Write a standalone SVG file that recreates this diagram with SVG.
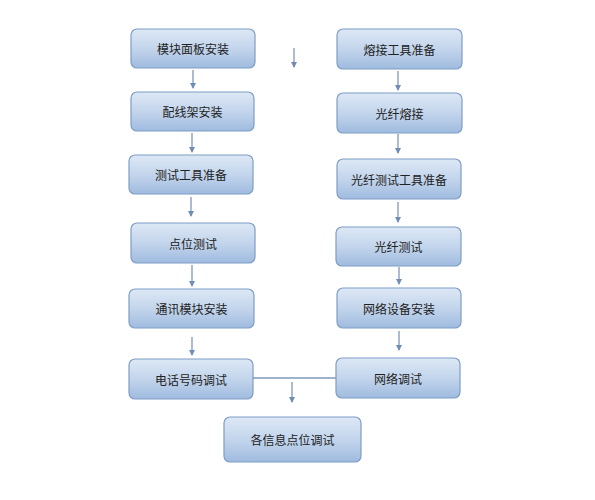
<svg xmlns="http://www.w3.org/2000/svg" width="595" height="500" viewBox="0 0 595 500">
<defs>
<linearGradient id="g" x1="0" y1="0" x2="0" y2="1">
<stop offset="0" stop-color="#dde8f5"/>
<stop offset="0.5" stop-color="#c3d5ec"/>
<stop offset="1" stop-color="#9fbbdf"/>
</linearGradient>
<marker id="ah" markerWidth="6" markerHeight="6" refX="5" refY="3" orient="auto" markerUnits="userSpaceOnUse">
<path d="M0,0 L6,3 L0,6 z" fill="#6f8db5"/>
</marker>
<style>
.n rect{fill:url(#g);stroke:#7f9dc6;stroke-width:1.2}
.n text{font-family:"Noto Sans CJK SC","Noto Sans",sans-serif;font-size:12px;fill:#222;text-anchor:middle;dominant-baseline:central}
.c line{stroke:#7f98ba;stroke-width:1.3}
.c .a{marker-end:url(#ah)}
</style>
</defs>
<rect width="595" height="500" fill="#fff"/>
<g class="c" id="connectors">
<line class="a" x1="193" y1="70" x2="193" y2="88"/>
<line class="a" x1="192" y1="133" x2="192" y2="152"/>
<line class="a" x1="191" y1="197" x2="191" y2="216"/>
<line class="a" x1="192" y1="265" x2="192" y2="286"/>
<line class="a" x1="192" y1="337" x2="192" y2="355"/>
<line class="a" x1="398" y1="71" x2="398" y2="90"/>
<line class="a" x1="398" y1="134" x2="398" y2="153"/>
<line class="a" x1="398" y1="202" x2="398" y2="222"/>
<line class="a" x1="399" y1="267" x2="399" y2="284"/>
<line class="a" x1="399" y1="331" x2="399" y2="350"/>
<line class="a" x1="294" y1="48" x2="294" y2="67"/>
<line x1="253" y1="378" x2="336" y2="378"/>
<line class="a" x1="292" y1="382" x2="292" y2="402"/>
</g>
<g class="n" id="n1"><rect x="131" y="29" width="124" height="39" rx="6"/><text x="193" y="48.5">模块面板安装</text></g>
<g class="n" id="n2"><rect x="131" y="92" width="123" height="39" rx="6"/><text x="192.5" y="111.5">配线架安装</text></g>
<g class="n" id="n3"><rect x="129" y="155" width="124" height="39" rx="6"/><text x="191" y="174.5">测试工具准备</text></g>
<g class="n" id="n4"><rect x="131" y="223" width="124" height="40" rx="6"/><text x="193" y="243">点位测试</text></g>
<g class="n" id="n5"><rect x="129" y="289" width="125" height="39" rx="6"/><text x="191.5" y="308.5">通讯模块安装</text></g>
<g class="n" id="n6"><rect x="129" y="359" width="124" height="40" rx="6"/><text x="191" y="379">电话号码调试</text></g>
<g class="n" id="n7"><rect x="337" y="29" width="125" height="40" rx="6"/><text x="399.5" y="49">熔接工具准备</text></g>
<g class="n" id="n8"><rect x="337" y="93" width="125" height="40" rx="6"/><text x="399.5" y="113">光纤熔接</text></g>
<g class="n" id="n9"><rect x="337" y="159" width="124" height="40" rx="6"/><text x="399" y="179">光纤测试工具准备</text></g>
<g class="n" id="n10"><rect x="336" y="227" width="125" height="39" rx="6"/><text x="398.5" y="246.5">光纤测试</text></g>
<g class="n" id="n11"><rect x="337" y="288" width="124" height="40" rx="6"/><text x="399" y="308">网络设备安装</text></g>
<g class="n" id="n12"><rect x="336" y="358" width="124" height="40" rx="6"/><text x="398" y="378">网络调试</text></g>
<g class="n" id="n13"><rect x="224" y="417" width="137" height="45" rx="6"/><text x="292.5" y="439.5">各信息点位调试</text></g>
</svg>
